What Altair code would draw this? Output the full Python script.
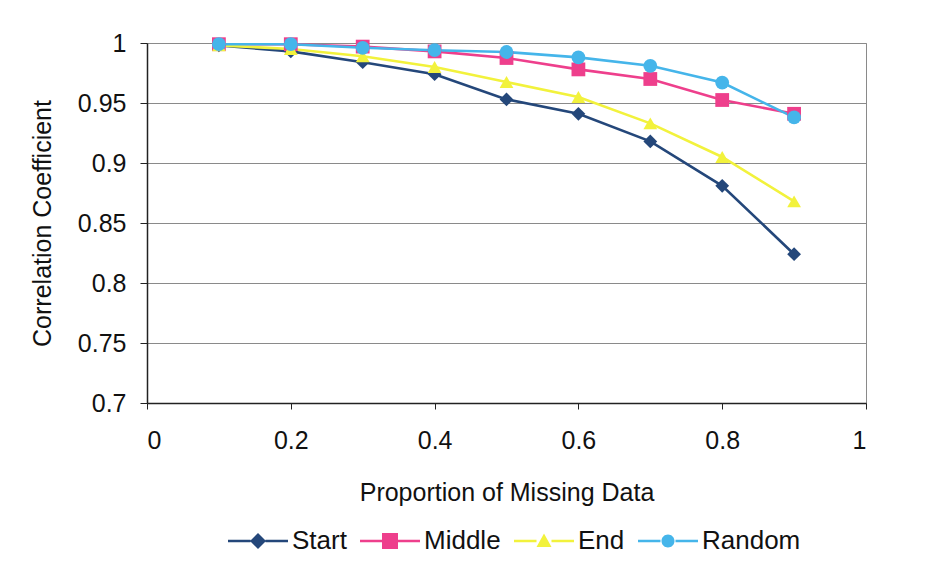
import altair as alt
import pandas as pd

# ---- data ----
proportion = [0.1, 0.2, 0.3, 0.4, 0.5, 0.6, 0.7, 0.8, 0.9]
start = [0.998, 0.993, 0.984, 0.974, 0.953, 0.941, 0.918, 0.881, 0.824]
middle = [0.999, 0.999, 0.997, 0.993, 0.9875, 0.978, 0.970, 0.9525, 0.941]
end = [0.998, 0.995, 0.989, 0.980, 0.9675, 0.955, 0.933, 0.905, 0.868]
random_ = [0.999, 0.999, 0.996, 0.994, 0.9925, 0.988, 0.981, 0.967, 0.938]

series_names = ["Start", "Middle", "End", "Random"]
series_values = [start, middle, end, random_]
x_ticks = [0, 0.2, 0.4, 0.6, 0.8, 1]
y_ticks = [0.7, 0.75, 0.8, 0.85, 0.9, 0.95, 1.0]

rows = []
for name, vals in zip(series_names, series_values):
    for p, v in zip(proportion, vals):
        rows.append({"Proportion": p, "Correlation": v, "Series": name})
df = pd.DataFrame(rows)

colors = ["#24477A", "#EE3F8C", "#F2F23C", "#45B5EA"]
FONT = "Liberation Sans"

color_scale = alt.Scale(domain=series_names, range=colors)

x_enc = alt.X(
    "Proportion:Q",
    scale=alt.Scale(domain=[0, 1], nice=False),
    axis=alt.Axis(
        values=x_ticks, format="~g", grid=False, title="Proportion of Missing Data",
        titleY=89, titleBaseline="middle", labelPadding=19, tickSize=6,
    ),
)
y_enc = alt.Y(
    "Correlation:Q",
    scale=alt.Scale(domain=[0.7, 1.0], nice=False, zero=False),
    axis=alt.Axis(
        values=y_ticks, format="~g", grid=True, title="Correlation Coefficient",
        titleX=-105, titleBaseline="middle", labelPadding=14, tickSize=7,
    ),
)

lines = alt.Chart(df).mark_line(strokeWidth=2.6).encode(
    x=x_enc, y=y_enc,
    color=alt.Color("Series:N", scale=color_scale, legend=None),
    order=alt.Order("Proportion:Q"),
)

points = alt.Chart(df).mark_point(filled=True, opacity=1, size=190, strokeWidth=0).encode(
    x=x_enc, y=y_enc,
    color=alt.Color("Series:N", scale=color_scale, legend=None),
    shape=alt.Shape(
        "Series:N",
        scale=alt.Scale(domain=series_names, range=["diamond", "square", "triangle-up", "circle"]),
        legend=None,
    ),
)

# legend symbols: line segment + marker, as custom symbol paths
legend_paths = [
    "M-6,-0.25H-1.5V0.25H-6Z M1.5,-0.25H6V0.25H1.5Z M0,-1.6L1.6,0L0,1.6L-1.6,0Z",
    "M-6,-0.25H-1.5V0.25H-6Z M1.5,-0.25H6V0.25H1.5Z M-1.6,-1.6H1.6V1.6H-1.6Z",
    "M-6,-0.25H-1.5V0.25H-6Z M1.5,-0.25H6V0.25H1.5Z M0,-1.5L1.5,1.2H-1.5Z",
    "M-6,-0.25H-1.5V0.25H-6Z M1.5,-0.25H6V0.25H1.5Z M-1.3,0A1.3,1.3 0 1,1 1.3,0A1.3,1.3 0 1,1 -1.3,0Z",
]

legend_def = alt.Legend(title=None, orient="none", direction="horizontal",
                        legendX=98, legendY=485, symbolOpacity=1,
                        symbolStrokeWidth=0, labelOffset=21, columnPadding=13,
                        labelFontSize=26, labelFont=FONT, labelColor="#111")

legend_layer = alt.Chart(df).mark_point(filled=True, opacity=0, size=100, strokeWidth=0).encode(
    x=x_enc, y=y_enc,
    color=alt.Color("Series:N", scale=color_scale, legend=legend_def),
    shape=alt.Shape("Series:N", scale=alt.Scale(domain=series_names, range=legend_paths),
                    legend=legend_def),
)

chart = (
    alt.layer(lines, points, legend_layer)
    .resolve_scale(shape="independent", color="independent")
    .properties(
        width=719, height=360,
        autosize=alt.AutoSizeParams(type="none"),
        padding={"left": 147, "top": 43, "right": 78, "bottom": 166},
        background="white",
    )
    .configure_view(stroke="#8a8a8a", strokeWidth=1)
    .configure_axis(
        labelFont=FONT, titleFont=FONT, labelFontSize=25, titleFontSize=25,
        labelColor="#111", titleColor="#111", titleFontWeight="normal",
        gridColor="#8a8a8a", gridWidth=1, domainColor="#222", tickColor="#222",
        domainWidth=1.5,
    )
)

chart.save("out.html", embed_options={"renderer": "svg", "actions": False})
